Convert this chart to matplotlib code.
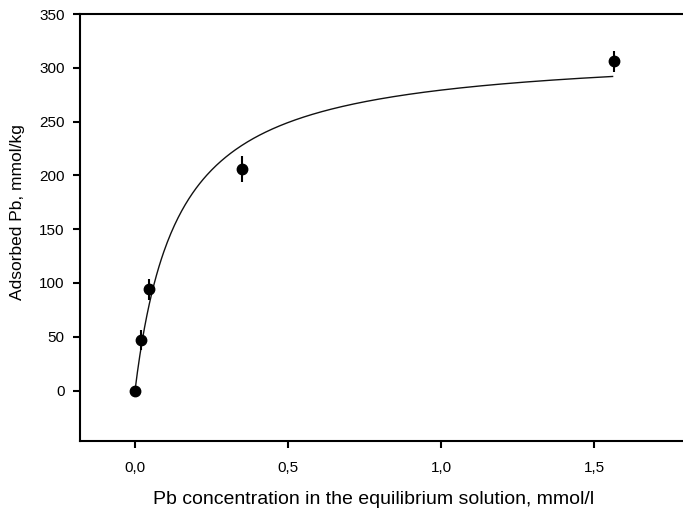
import numpy as np
import matplotlib
matplotlib.use("Agg")
import matplotlib.pyplot as plt
from matplotlib.ticker import FuncFormatter

plt.rcParams.update({
    "font.family": ["Liberation Sans", "DejaVu Sans"],
    "font.size": 11,
})

# ── Data ──────────────────────────────────────────────────────────────────────
conc = [0.0, 0.019, 0.046, 0.349, 1.565]       # mmol/l
adsorbed = [0, 47, 94, 206, 306]                # mmol/kg
err = [3, 9, 10, 12, 10]

# Langmuir fit parameters
q_max = 317.7
k_l = 7.27
fit_range = (0.0, 1.56)

x_ticks = [0.0, 0.5, 1.0, 1.5]
y_ticks = [0, 50, 100, 150, 200, 250, 300, 350]

# ── Figure ────────────────────────────────────────────────────────────────────
fig = plt.figure(figsize=(6.83, 5.19), dpi=100)
ax = fig.add_axes([0.117, 0.150, 0.883, 0.823])

c_fit = np.linspace(fit_range[0], fit_range[1], 400)
ax.plot(c_fit, q_max * k_l * c_fit / (1 + k_l * c_fit), color="#111111", lw=1.0)

ax.errorbar(conc, adsorbed, yerr=err, fmt="o", color="black", ms=7.5,
            elinewidth=1.5, capsize=0, zorder=3)

ax.set_xlim(-0.18, 1.79)
ax.set_ylim(-47, 350)
ax.set_xticks(x_ticks)
ax.set_yticks(y_ticks)
ax.xaxis.set_major_formatter(FuncFormatter(lambda v, p: f"{v:.1f}".replace(".", ",")))

for side in ["left", "bottom", "top"]:
    ax.spines[side].set_linewidth(1.5)
ax.spines["right"].set_visible(False)
ax.tick_params(direction="out", length=5, width=1.5, labelsize=11, colors="black")
ax.tick_params(axis="y", pad=6)
ax.tick_params(axis="x", pad=9)
ax.tick_params(top=False, right=False)

ax.set_xlabel("Pb concentration in the equilibrium solution, mmol/l", fontsize=14)
ax.set_ylabel("Adsorbed Pb, mmol/kg", fontsize=12.5)
ax.xaxis.set_label_coords(0.487, -0.116)
ax.yaxis.set_label_coords(-0.091, 0.536)

fig.savefig("out.png", dpi=100)
